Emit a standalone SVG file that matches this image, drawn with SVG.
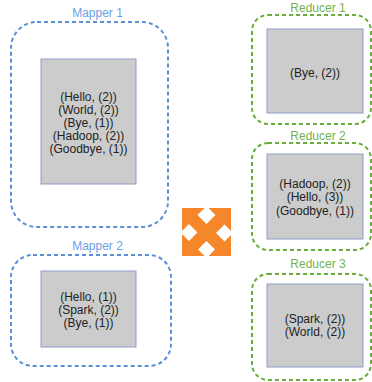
<svg xmlns="http://www.w3.org/2000/svg" width="372" height="382" viewBox="0 0 372 382">
<style>
.m{fill:none;stroke:#5b8fd6;stroke-width:2;stroke-dasharray:4 3}
.r{fill:none;stroke:#6aad3d;stroke-width:2;stroke-dasharray:4 3}
.box{fill:#cccccc;stroke:#8f9cc6;stroke-width:1}
.t{font-family:"Liberation Sans",Arial,sans-serif;font-size:12px;fill:#222;text-anchor:middle}
.lm{font-family:"Liberation Sans",Arial,sans-serif;font-size:12px;fill:#6d9eeb;text-anchor:middle}
.lr{font-family:"Liberation Sans",Arial,sans-serif;font-size:12px;fill:#74b351;text-anchor:middle}
.n{fill:#fff}
</style>
<rect width="372" height="382" fill="#fff"/>
<g id="mapper1">
<text class="lm" x="97.5" y="17">Mapper 1</text>
<rect class="m" x="11" y="22" width="157" height="205" rx="26"/>
<rect class="box" x="41" y="59" width="95" height="125"/>
<text class="t" x="88.5" y="100.5">(Hello, (2))</text>
<text class="t" x="88.5" y="113.7">(World, (2))</text>
<text class="t" x="88.5" y="126.9">(Bye, (1))</text>
<text class="t" x="88.5" y="140.1">(Hadoop, (2))</text>
<text class="t" x="88.5" y="153.3">(Goodbye, (1))</text>
</g>
<g id="mapper2">
<text class="lm" x="97.5" y="250">Mapper 2</text>
<rect class="m" x="11" y="255" width="160" height="111" rx="22"/>
<rect class="box" x="41" y="271" width="95" height="76"/>
<text class="t" x="88.5" y="300.5">(Hello, (1))</text>
<text class="t" x="88.5" y="313.7">(Spark, (2))</text>
<text class="t" x="88.5" y="326.9">(Bye, (1))</text>
</g>
<g id="reducer1">
<text class="lr" x="318" y="12">Reducer 1</text>
<rect class="r" x="252" y="15" width="119" height="109" rx="16"/>
<rect class="box" x="267" y="29" width="96" height="84"/>
<text class="t" x="315" y="76.5">(Bye, (2))</text>
</g>
<g id="reducer2">
<text class="lr" x="318" y="140">Reducer 2</text>
<rect class="r" x="252" y="143" width="119" height="107" rx="16"/>
<rect class="box" x="267" y="154" width="96" height="85"/>
<text class="t" x="315" y="188">(Hadoop, (2))</text>
<text class="t" x="315" y="201.3">(Hello, (3))</text>
<text class="t" x="315" y="214.6">(Goodbye, (1))</text>
</g>
<g id="reducer3">
<text class="lr" x="318" y="268">Reducer 3</text>
<rect class="r" x="252" y="274" width="119" height="106" rx="16"/>
<rect class="box" x="267" y="284" width="96" height="83"/>
<text class="t" x="315" y="323">(Spark, (2))</text>
<text class="t" x="315" y="336.3">(World, (2))</text>
</g>
<g id="shuffle">
<rect x="182" y="208" width="49" height="48" fill="#f5862a"/>
<polygon class="n" points="206.5,206 215.5,215 206.5,224 197.5,215"/>
<polygon class="n" points="206.5,241 215,249.5 206.5,258 198,249.5"/>
<polygon class="n" points="180.5,232.5 189,224 197.5,232.5 189,241"/>
<polygon class="n" points="216,233 224.5,224.5 233,233 224.5,241.5"/>
</g>
<g id="connectors"></g>
</svg>
